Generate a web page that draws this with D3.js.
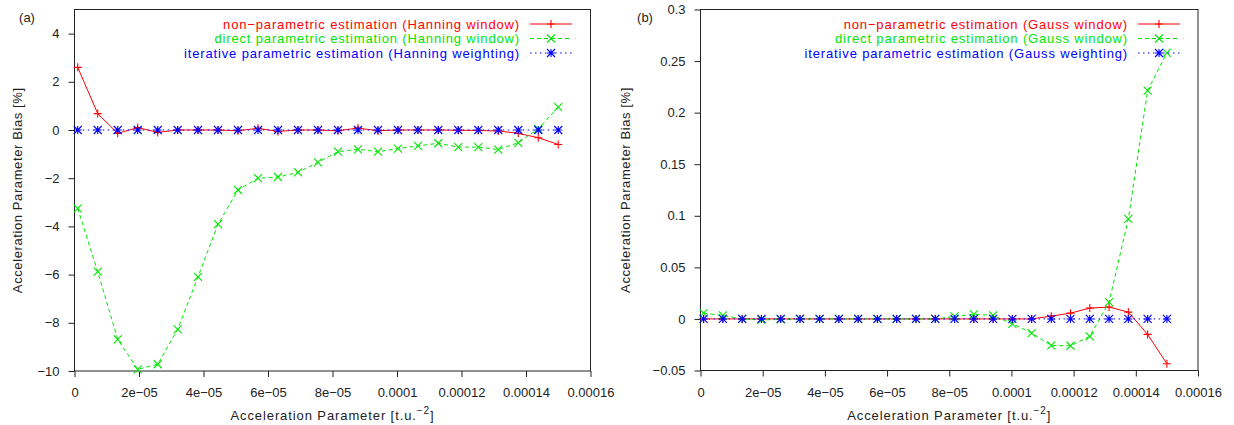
<!DOCTYPE html>
<html>
<head>
<meta charset="utf-8">
<script src="https://cdn.jsdelivr.net/npm/d3@7"></script>
<style>
	body { margin: 0; background: #fff; }
	svg text { font-family: "Liberation Sans", Arial, Helvetica, sans-serif; }
</style>
</head>
<body>
<svg id="chart" width="1234" height="425"></svg>
<script>
// acceleration parameter values (same for both panels)
const accel = [
	1.0e-6, 7.2e-6, 13.4e-6, 19.6e-6, 25.8e-6, 32.0e-6, 38.3e-6, 44.5e-6, 50.7e-6,
	56.9e-6, 63.1e-6, 69.3e-6, 75.5e-6, 81.7e-6, 87.9e-6, 94.1e-6, 100.3e-6, 106.5e-6,
	112.8e-6, 119.0e-6, 125.2e-6, 131.4e-6, 137.6e-6, 143.8e-6, 150.0e-6
];

// panel (a) - Hanning
const hannNonPar = [2.6, 0.68, -0.14, 0.1, -0.1, 0, 0, 0, -0.03, 0.07, -0.06, 0, 0, -0.03, 0.08,
	-0.03, 0, 0, 0, -0.01, -0.02, -0.04, -0.14, -0.32, -0.6];
const hannDirect = [-3.25, -5.88, -8.69, -9.93, -9.72, -8.27, -6.09, -3.91, -2.49, -2.0, -1.95, -1.76,
	-1.34, -0.9, -0.8, -0.9, -0.77, -0.66, -0.55, -0.71, -0.71, -0.81, -0.53, 0.05, 0.95];
const hannIter = [0, 0, 0, 0, 0, 0, 0, 0, 0, 0, 0, 0, 0, 0, 0, 0, 0, 0, 0, 0, 0, 0, 0, 0, 0];

// panel (b) - Gauss
const gaussNonPar = [0, 0, 0, 0, 0, 0, 0, 0, 0, 0, 0, 0, 0, 0, 0, 0, 0, 0, 0.0027, 0.0056, 0.0105,
	0.0115, 0.0066, -0.015, -0.0434];
const gaussDirect = [0.0056, 0.0034, 0, -0.001, -0.0005, 0, 0, 0, 0, 0, 0, 0, 0, 0.0024, 0.0045,
	0.0034, -0.0047, -0.0137, -0.0257, -0.026, -0.017, 0.0163, 0.097, 0.2214, 0.258];
const gaussIter = [0, 0, 0, 0, 0, 0, 0, 0, 0, 0, 0, 0, 0, 0, 0, 0, 0, 0, 0, 0, 0, 0, 0, 0, 0];

const xTicks = [0, 2e-5, 4e-5, 6e-5, 8e-5, 1e-4, 1.2e-4, 1.4e-4, 1.6e-4];
const xTickLabels = ["0", "2e\u221205", "4e\u221205", "6e\u221205", "8e\u221205", "0.0001", "0.00012", "0.00014", "0.00016"];
const yTicksA = [-10, -8, -6, -4, -2, 0, 2, 4];
const yTicksB = [-0.05, 0, 0.05, 0.1, 0.15, 0.2, 0.25, 0.3];

const svg = d3.select("#chart");

const fmtMinus = function(s) { return String(s).replace("-", "\u2212"); };

// gnuplot-like point shapes
const marker = function(g, type, x, y, color) {
	const s = 4;
	let d = "";
	if (type === "plus" || type === "star") d += `M${x - s},${y}H${x + s}M${x},${y - s}V${y + s}`;
	if (type === "cross" || type === "star") d += `M${x - s},${y - s}L${x + s},${y + s}M${x - s},${y + s}L${x + s},${y - s}`;
	g.append("path").attr("d", d).attr("stroke", color).attr("stroke-width", 1.1).attr("fill", "none");
};

const panel = function(cfg) {
	const x = d3.scaleLinear().domain([0, 1.6e-4]).range([cfg.left, cfg.right]);
	const y = d3.scaleLinear().domain(cfg.yDomain).range([cfg.bottom, cfg.top]);
	const g = svg.append("g");

	// frame
	g.append("rect")
		.attr("x", cfg.left).attr("y", cfg.top)
		.attr("width", cfg.right - cfg.left).attr("height", cfg.bottom - cfg.top)
		.attr("fill", "none").attr("stroke", "#222").attr("stroke-width", 1);

	// axes with outward ticks
	const xAxis = g.append("g").attr("transform", "translate(0," + cfg.bottom + ")")
		.call(d3.axisBottom(x).tickValues(xTicks).tickSize(6).tickPadding(11)
			.tickFormat((d, i) => xTickLabels[i]));
	const yAxis = g.append("g").attr("transform", "translate(" + cfg.left + ",0)")
		.call(d3.axisLeft(y).tickValues(cfg.yTicks).tickSize(6).tickPadding(9)
			.tickFormat(d => fmtMinus(cfg.yFmt(d))));
	[xAxis, yAxis].forEach(a => {
		a.select(".domain").remove();
		a.selectAll("line").attr("stroke", "#222");
		a.selectAll("text").attr("font-size", 13).attr("fill", "#222")
			.attr("font-family", "'Liberation Sans', Arial, sans-serif");
	});

	// labels
	const xl = g.append("text")
		.attr("x", (cfg.left + cfg.right) / 2).attr("y", 420)
		.attr("text-anchor", "middle").attr("font-size", 13).attr("fill", "#222")
		.attr("letter-spacing", 0.9);
	xl.append("tspan").text("Acceleration Parameter [t.u.");
	xl.append("tspan").attr("dy", -6).attr("font-size", 10).text("\u22122");
	xl.append("tspan").attr("dy", 6).text("]");

	g.append("text")
		.attr("transform", `translate(${cfg.yLabelX},${(cfg.top + cfg.bottom) / 2}) rotate(-90)`)
		.attr("text-anchor", "middle").attr("dy", "0.35em")
		.attr("font-size", 13).attr("fill", "#222").attr("letter-spacing", 0.6)
		.text("Acceleration Parameter Bias [%]");

	g.append("text").attr("x", cfg.tagX).attr("y", 22)
		.attr("text-anchor", "middle").attr("font-size", 13).attr("fill", "#222")
		.text(cfg.tag);

	// series
	const line = d3.line().x(d => x(d[0])).y(d => y(d[1]));
	cfg.series.forEach((s, k) => {
		const pts = accel.map((a, i) => [a, s.values[i]]);
		g.append("path").datum(pts)
			.attr("d", line).attr("fill", "none")
			.attr("stroke", s.color).attr("stroke-width", 1)
			.attr("stroke-dasharray", s.dash);
		pts.forEach(p => marker(g, s.shape, x(p[0]), y(p[1]), s.color));

		// legend entry
		const ly = 24 + k * 14.5;
		g.append("text").attr("x", cfg.legendX).attr("y", ly).attr("dy", "0.35em")
			.attr("text-anchor", "end").attr("font-size", 13).attr("fill", s.color)
			.attr("letter-spacing", 0.85)
			.text(s.name);
		g.append("line")
			.attr("x1", cfg.legendX + 10).attr("x2", cfg.legendX + 52)
			.attr("y1", ly).attr("y2", ly)
			.attr("stroke", s.color).attr("stroke-width", 1).attr("stroke-dasharray", s.dash);
		marker(g, s.shape, cfg.legendX + 31, ly, s.color);
	});
};

panel({
	left: 74.5, right: 590.5, top: 9.5, bottom: 371,
	yDomain: [-10, 5], yTicks: yTicksA, yFmt: d3.format("d"),
	yLabelX: 17, tag: "(a)", tagX: 27, legendX: 520,
	series: [
		{name: "non\u2212parametric estimation (Hanning window)", values: hannNonPar, color: "#ff0000", dash: null, shape: "plus"},
		{name: "direct parametric estimation (Hanning window)", values: hannDirect, color: "#00e600", dash: "4,3", shape: "cross"},
		{name: "iterative parametric estimation (Hanning weighting)", values: hannIter, color: "#0000ff", dash: "1.5,3.5", shape: "star"}
	]
});

panel({
	left: 700.5, right: 1198, top: 9.5, bottom: 370.5,
	yDomain: [-0.05, 0.3], yTicks: yTicksB, yFmt: d => d3.format("~g")(+d.toFixed(2)),
	yLabelX: 625, tag: "(b)", tagX: 645, legendX: 1128,
	series: [
		{name: "non\u2212parametric estimation (Gauss window)", values: gaussNonPar, color: "#ff0000", dash: null, shape: "plus"},
		{name: "direct parametric estimation (Gauss window)", values: gaussDirect, color: "#00e600", dash: "4,3", shape: "cross"},
		{name: "iterative parametric estimation (Gauss weighting)", values: gaussIter, color: "#0000ff", dash: "1.5,3.5", shape: "star"}
	]
});
</script>
</body>
</html>
